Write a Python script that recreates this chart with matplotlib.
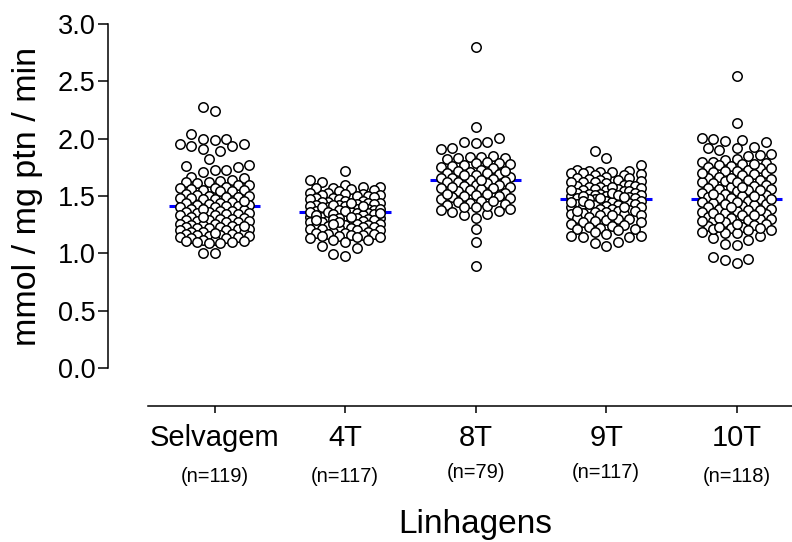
import numpy as np
import matplotlib
matplotlib.use("Agg")
import matplotlib.pyplot as plt

plt.rcParams['font.family'] = ['Liberation Sans', 'DejaVu Sans']

# Strains and their sample sizes
strains = ["Selvagem", "4T", "8T", "9T", "10T"]
n_labels = ["(n=119)", "(n=117)", "(n=79)", "(n=117)", "(n=118)"]

# Activity values (mmol / mg ptn / min), one list per strain
selvagem = [
    2.28, 2.24, 2.04, 2.00, 2.00, 1.99, 1.95, 1.95, 1.94, 1.94, 1.91, 1.89,
    1.82, 1.77, 1.76, 1.75, 1.73, 1.73, 1.71, 1.67, 1.66, 1.00, 1.00,
    1.64, 1.63, 1.62, 1.62, 1.61, 1.60, 1.60,
    1.58, 1.57, 1.57, 1.56, 1.55, 1.55, 1.54, 1.54,
    1.52, 1.51, 1.50, 1.50, 1.49, 1.49, 1.48, 1.48, 1.47, 1.47,
    1.45, 1.44, 1.44, 1.43, 1.42, 1.42, 1.41, 1.41, 1.40, 1.40, 1.39,
    1.38, 1.37, 1.37, 1.36, 1.36, 1.35, 1.35, 1.34, 1.34, 1.33, 1.33, 1.32,
    1.31, 1.30, 1.30, 1.29, 1.29, 1.28, 1.28, 1.27, 1.27, 1.26, 1.26, 1.25, 1.25,
    1.24, 1.23, 1.23, 1.22, 1.22, 1.21, 1.21, 1.20, 1.20, 1.19, 1.19, 1.18,
    1.17, 1.17, 1.16, 1.16, 1.15, 1.15, 1.14, 1.14, 1.13, 1.13,
    1.12, 1.12, 1.11, 1.11, 1.10, 1.10, 1.09, 1.09,
    1.46, 1.39, 1.32, 1.24, 1.18,
]
t4 = [
    1.72, 1.64, 1.62, 1.60,
    1.58, 1.58, 1.57, 1.57, 1.56, 1.55,
    1.54, 1.53, 1.53, 1.52, 1.52, 1.51, 1.51, 1.50, 1.50,
    1.49, 1.48, 1.48, 1.47, 1.47, 1.46, 1.46, 1.45, 1.45, 1.44, 1.44,
    1.43, 1.43, 1.42, 1.42, 1.41, 1.41, 1.40, 1.40, 1.39, 1.39, 1.38, 1.38,
    1.37, 1.37, 1.36, 1.36, 1.35, 1.35, 1.35, 1.34, 1.34, 1.33, 1.33, 1.32, 1.32,
    1.31, 1.31, 1.30, 1.30, 1.29, 1.29, 1.28, 1.28, 1.27, 1.27, 1.26, 1.26,
    1.25, 1.25, 1.24, 1.24, 1.23, 1.23, 1.22, 1.22, 1.21, 1.21, 1.20,
    1.20, 1.19, 1.19, 1.18, 1.18, 1.17, 1.17, 1.16, 1.16,
    1.15, 1.15, 1.14, 1.14, 1.13, 1.12, 1.12,
    1.10, 1.06, 1.05, 0.99, 0.98,
    1.44, 1.42, 1.41, 1.40, 1.39, 1.38, 1.37, 1.36, 1.36, 1.35, 1.34, 1.33,
    1.32, 1.31, 1.30, 1.29, 1.27, 1.26,
]
t8 = [
    2.80, 2.10, 2.01, 1.97, 1.97, 1.96, 1.92, 1.91,
    0.89, 1.10, 1.21, 1.31, 1.33, 1.34,
    1.85, 1.84, 1.84, 1.83, 1.83, 1.82,
    1.80, 1.79, 1.79, 1.78, 1.77, 1.76,
    1.75, 1.74, 1.73, 1.72, 1.71, 1.70, 1.70,
    1.69, 1.68, 1.67, 1.66, 1.66, 1.65, 1.64,
    1.63, 1.62, 1.62, 1.61, 1.60, 1.60, 1.59,
    1.58, 1.57, 1.57, 1.56, 1.55, 1.54, 1.53,
    1.52, 1.51, 1.50, 1.50, 1.49, 1.48, 1.47,
    1.46, 1.45, 1.44, 1.43, 1.42, 1.41, 1.40,
    1.40, 1.39, 1.38, 1.37, 1.36,
    1.72, 1.68, 1.64, 1.58, 1.52, 1.46,
]
t9 = [
    1.89, 1.83, 1.77, 1.73, 1.72, 1.72, 1.71, 1.71, 1.70, 1.70,
    1.69, 1.68, 1.68, 1.67, 1.66, 1.66, 1.65, 1.64, 1.64,
    1.63, 1.62, 1.62, 1.61, 1.60, 1.60, 1.59, 1.59, 1.58, 1.58,
    1.57, 1.56, 1.56, 1.55, 1.55, 1.54, 1.54, 1.53, 1.53, 1.52, 1.52,
    1.51, 1.51, 1.50, 1.50, 1.49, 1.49, 1.48, 1.48, 1.47, 1.47, 1.47, 1.46,
    1.46, 1.45, 1.45, 1.44, 1.44, 1.43, 1.43, 1.42, 1.42, 1.41, 1.41,
    1.40, 1.40, 1.39, 1.39, 1.38, 1.38, 1.37, 1.37, 1.36, 1.36,
    1.35, 1.34, 1.34, 1.33, 1.33, 1.32, 1.31, 1.30, 1.30,
    1.29, 1.28, 1.27, 1.27, 1.26, 1.25, 1.24, 1.23,
    1.22, 1.21, 1.21, 1.20, 1.19, 1.17, 1.15, 1.15, 1.14, 1.14, 1.10, 1.09, 1.06,
    1.62, 1.58, 1.55, 1.53, 1.51, 1.50, 1.49, 1.48, 1.46, 1.45, 1.43, 1.40,
    1.37, 1.33,
]
t10 = [
    2.55, 2.14, 2.01, 2.00, 1.99, 1.98, 1.97, 1.93, 1.92, 1.92, 1.90, 1.87,
    1.86, 1.85,
    0.97, 0.95, 0.94, 0.92, 1.08, 1.07, 1.12, 1.13, 1.15,
    1.82, 1.81, 1.80, 1.80, 1.79, 1.78, 1.77, 1.76,
    1.75, 1.74, 1.73, 1.72, 1.72, 1.71, 1.70, 1.69, 1.68,
    1.67, 1.66, 1.65, 1.64, 1.64, 1.63, 1.62, 1.61, 1.60,
    1.59, 1.58, 1.57, 1.56, 1.56, 1.55, 1.54, 1.53, 1.52, 1.51,
    1.50, 1.49, 1.48, 1.48, 1.47, 1.46, 1.45, 1.44, 1.43, 1.42,
    1.41, 1.40, 1.39, 1.39, 1.38, 1.37, 1.36, 1.35, 1.34, 1.33,
    1.32, 1.31, 1.30, 1.30, 1.29, 1.28, 1.27, 1.26, 1.25,
    1.24, 1.23, 1.22, 1.22, 1.21, 1.20, 1.19, 1.18, 1.18,
    1.78, 1.74, 1.70, 1.66, 1.62, 1.58, 1.55, 1.52, 1.50, 1.47, 1.45, 1.43,
    1.40, 1.38, 1.35, 1.33, 1.31, 1.28, 1.26, 1.23, 1.20,
]
groups = [selvagem, t4, t8, t9, t10]

# Level of the horizontal central line drawn for each strain
center_lines = [1.415, 1.357, 1.636, 1.473, 1.471]

W_PX, H_PX = 792, 542
AX_LEFT, AX_RIGHT = 108, 792
AX_TOP, AX_BOTTOM = 24, 406
PX_PER_CAT = 130.5
PX_PER_Y = 114.7
FIRST_TICK_PX = 214.6


def swarm_offsets(values, step=5.8, n_side=6, diam=11.0):
    """Horizontal offsets (px) that spread points of one column apart."""
    values = np.asarray(values, dtype=float)
    order = np.argsort(values, kind="stable")
    cands = sorted([k * step for k in range(-n_side, n_side + 1)], key=abs)
    px, py = [], []
    offs = np.zeros(len(values))
    for idx in order:
        y = values[idx] * PX_PER_Y
        best, best_d = 0.0, -1.0
        for c in cands:
            if px:
                d = np.min(np.hypot(np.array(px) - c, np.array(py) - y))
            else:
                d = np.inf
            if d >= diam:
                best = c
                break
            if d > best_d:
                best, best_d = c, d
        offs[idx] = best
        px.append(best)
        py.append(y)
    return offs


fig = plt.figure(figsize=(W_PX / 100, H_PX / 100), dpi=100)
ax = fig.add_axes([AX_LEFT / W_PX, 1 - AX_BOTTOM / H_PX,
                   (AX_RIGHT - AX_LEFT) / W_PX, (AX_BOTTOM - AX_TOP) / H_PX])

x_left = -(FIRST_TICK_PX - AX_LEFT) / PX_PER_CAT
x_right = (AX_RIGHT - FIRST_TICK_PX) / PX_PER_CAT
y_bottom = -(AX_BOTTOM - 368) / PX_PER_Y
ax.set_xlim(x_left, x_right)
ax.set_ylim(y_bottom, 3.0)

positions = np.arange(len(strains))
for pos, vals, level in zip(positions, groups, center_lines):
    offs = swarm_offsets(vals) / PX_PER_CAT
    ax.plot([pos - 0.35, pos + 0.35], [level, level], color="#0000ff",
            lw=2.2, solid_capstyle="butt", zorder=2)
    ax.scatter(pos + offs, vals, s=46, facecolor="white", edgecolor="black",
               linewidths=1.1, zorder=3, clip_on=False)

# Prism-style detached axes
for side in ("top", "right"):
    ax.spines[side].set_visible(False)
ax.spines["left"].set_bounds(0, 3.0)
ax.spines["bottom"].set_bounds((148 - FIRST_TICK_PX) / PX_PER_CAT, x_right)
for side in ("left", "bottom"):
    ax.spines[side].set_linewidth(1.1)

ax.set_yticks(np.arange(0, 3.01, 0.5))
ax.set_yticklabels([f"{v:.1f}" for v in np.arange(0, 3.01, 0.5)])
ax.tick_params(axis="y", length=7, width=1.1, pad=2, labelsize=19.5)
ax.set_xticks(positions)
ax.set_xticklabels([])
ax.tick_params(axis="x", length=5, width=1.1)

n_dy = [0, 0, -4, -4, 0]
for pos, name, nlab, dy in zip(positions, strains, n_labels, n_dy):
    ax.annotate(name, xy=(pos, 0), xycoords=("data", "axes fraction"),
                xytext=(0, -40 * 0.72), textcoords="offset points",
                ha="center", va="baseline", fontsize=21)
    ax.annotate(nlab, xy=(pos, 0), xycoords=("data", "axes fraction"),
                xytext=(0, (-76 - dy) * 0.72), textcoords="offset points",
                ha="center", va="baseline", fontsize=14.5)

ax.annotate("Linhagens", xy=(2, 0), xycoords=("data", "axes fraction"),
            xytext=(0, -127 * 0.72), textcoords="offset points",
            ha="center", va="baseline", fontsize=24)

fig.text(28 / W_PX, 1 - 196 / H_PX, "mmol / mg ptn / min", rotation=90,
         ha="center", va="center", fontsize=24.5)

fig.savefig("out.png", dpi=100)
